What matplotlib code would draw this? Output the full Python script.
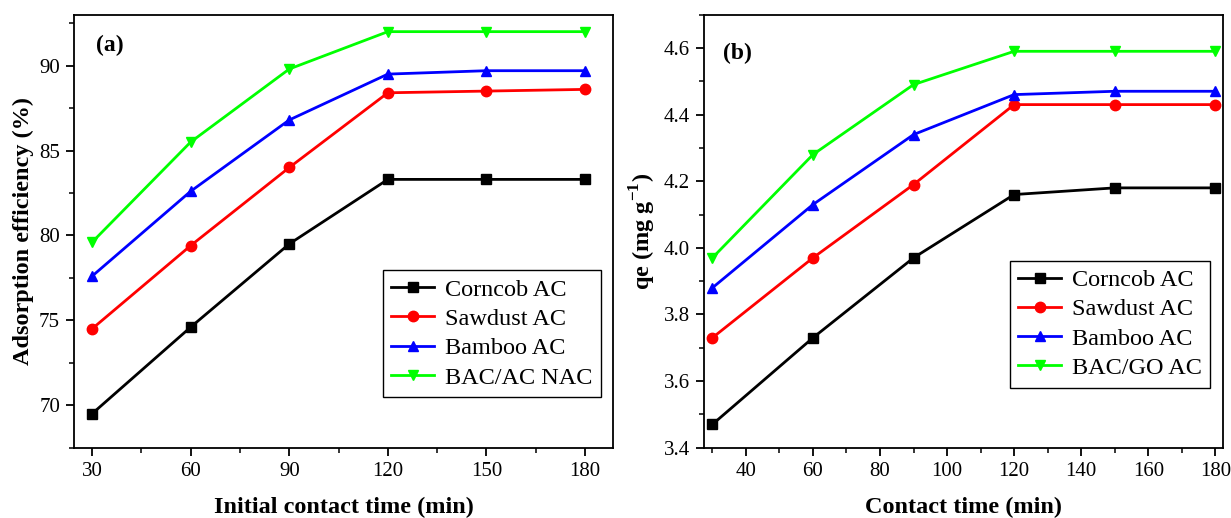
import numpy as np
import matplotlib
matplotlib.use("Agg")
from matplotlib import pyplot as plt
from matplotlib.ticker import MultipleLocator, FormatStrFormatter

# Data
time = [30, 60, 90, 120, 150, 180]
labels_a = ["Corncob AC", "Sawdust AC", "Bamboo AC", "BAC/AC NAC"]
labels_b = ["Corncob AC", "Sawdust AC", "Bamboo AC", "BAC/GO AC"]

# (a) adsorption efficiency (%)
eff_corncob = [69.5, 74.6, 79.5, 83.3, 83.3, 83.3]
eff_sawdust = [74.5, 79.4, 84.0, 88.4, 88.5, 88.6]
eff_bamboo = [77.6, 82.6, 86.8, 89.5, 89.7, 89.7]
eff_bac = [79.6, 85.5, 89.8, 92.0, 92.0, 92.0]

# (b) qe (mg/g)
qe_corncob = [3.47, 3.73, 3.97, 4.16, 4.18, 4.18]
qe_sawdust = [3.73, 3.97, 4.19, 4.43, 4.43, 4.43]
qe_bamboo = [3.88, 4.13, 4.34, 4.46, 4.47, 4.47]
qe_bac = [3.97, 4.28, 4.49, 4.59, 4.59, 4.59]

colors = ["#000000", "#ff0000", "#0000ff", "#00ff00"]
markers = ["s", "o", "^", "v"]

plt.rcParams['font.family'] = ['Liberation Serif', 'DejaVu Serif']
plt.rcParams['mathtext.fontset'] = 'custom'
plt.rcParams['mathtext.rm'] = 'Liberation Serif'
plt.rcParams['mathtext.bf'] = 'Liberation Serif:bold'

fig = plt.figure(figsize=(12.31, 5.18), dpi=100)
ax1 = fig.add_axes([0.0601, 0.1357, 0.4379, 0.836])
ax2 = fig.add_axes([0.5719, 0.1357, 0.4216, 0.836])


def style_axis(ax):
    for s in ax.spines.values():
        s.set_linewidth(1.3)
    ax.tick_params(which='major', direction='out', length=6, width=1.3,
                   labelsize=15, pad=4)
    ax.tick_params(which='minor', direction='out', length=3.5, width=1.1)


def add_legend(ax, anchor):
    leg = ax.legend(loc='lower right', bbox_to_anchor=anchor, fontsize=17.5,
                    frameon=True, fancybox=False, edgecolor='black', framealpha=1,
                    handlelength=1.75, handletextpad=0.45, labelspacing=0.3,
                    borderpad=0.35, borderaxespad=0)
    leg.get_frame().set_linewidth(1.0)
    return leg


# Panel (a)
series_a = [eff_corncob, eff_sawdust, eff_bamboo, eff_bac]
for ys, c, m, lab in zip(series_a, colors, markers, labels_a):
    ax1.plot(time, ys, color=c, marker=m, markersize=7.5, linewidth=2.0, label=lab)
ax1.set_xlim(24.5, 188.5)
ax1.set_ylim(67.5, 93.0)
ax1.set_xticks(time)
ax1.xaxis.set_minor_locator(MultipleLocator(15))
ax1.yaxis.set_major_locator(MultipleLocator(5))
ax1.yaxis.set_minor_locator(MultipleLocator(2.5))
style_axis(ax1)
ax1.set_xlabel("Initial contact time (min)", fontsize=17.5, fontweight='bold', labelpad=12)
ax1.set_ylabel("Adsorption efficiency (%)", fontsize=17.5, fontweight='bold', labelpad=4)
ax1.text(0.067, 0.928, "(a)", transform=ax1.transAxes, fontsize=17,
         fontweight='bold', ha='center', va='center')
add_legend(ax1, (0.977, 0.117))

# Panel (b)
series_b = [qe_corncob, qe_sawdust, qe_bamboo, qe_bac]
for ys, c, m, lab in zip(series_b, colors, markers, labels_b):
    ax2.plot(time, ys, color=c, marker=m, markersize=7.5, linewidth=2.0, label=lab)
ax2.set_xlim(27.5, 182.3)
ax2.set_ylim(3.4, 4.7)
ax2.xaxis.set_major_locator(MultipleLocator(20))
ax2.xaxis.set_minor_locator(MultipleLocator(10))
ax2.yaxis.set_major_locator(MultipleLocator(0.2))
ax2.yaxis.set_minor_locator(MultipleLocator(0.1))
ax2.yaxis.set_major_formatter(FormatStrFormatter('%.1f'))
style_axis(ax2)
ax2.set_xlabel("Contact time (min)", fontsize=17.5, fontweight='bold', labelpad=12)
ax2.set_ylabel(r"qe (mg g$^{\mathbf{-1}}$)", fontsize=17.5, fontweight='bold', labelpad=4)
ax2.text(0.064, 0.91, "(b)", transform=ax2.transAxes, fontsize=17,
         fontweight='bold', ha='center', va='center')
add_legend(ax2, (0.9755, 0.139))

fig.savefig("out.png", dpi=100)
